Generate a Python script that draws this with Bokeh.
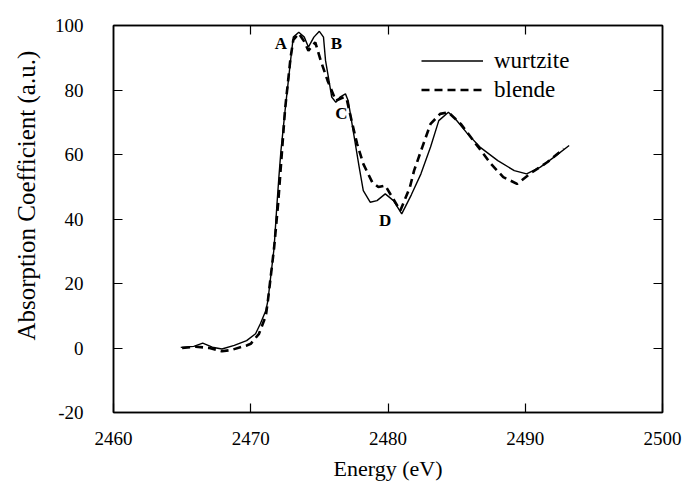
from bokeh.plotting import figure
from bokeh.models import Range1d, LinearAxis, FixedTicker, Legend, LegendItem, Title
from bokeh.core.properties import value
from bokeh.embed import file_html
from bokeh.resources import INLINE

# ---- data ----
wurtzite_e = [2464.9, 2465.85, 2466.5, 2467.2, 2467.9, 2468.8, 2469.7, 2470.35, 2470.7,
              2471.1, 2471.25, 2471.7, 2471.9, 2472.05, 2472.2, 2472.5, 2472.9, 2473.1,
              2473.5, 2473.9, 2474.2, 2474.6, 2475.0, 2475.3, 2475.45, 2475.7, 2475.9,
              2476.2, 2476.5, 2476.9, 2477.1, 2477.5, 2477.9, 2478.2, 2478.7, 2479.2,
              2479.8, 2480.4, 2481.0, 2481.7, 2482.4, 2483.1, 2483.7, 2484.4, 2484.9,
              2485.8, 2486.7, 2488.0, 2489.2, 2490.1, 2491.1, 2492.1, 2493.2]
wurtzite_v = [0.2, 0.5, 1.5, 0.25, -0.3, 0.8, 2.3, 4.4, 7.5,
              11.6, 14.7, 31.0, 44.0, 53.0, 61.2, 73.6, 89.1, 96.4,
              97.9, 96.4, 93.3, 96.4, 98.2, 96.4, 89.1, 82.9, 77.8,
              76.2, 77.8, 78.8, 76.7, 66.4, 56.1, 48.8, 45.2, 45.7,
              47.8, 45.7, 41.6, 47.5, 54.0, 62.3, 70.5, 73.1, 71.1,
              66.4, 62.3, 58.1, 55.0, 54.0, 56.1, 59.2, 62.8]

blende_e = [2465.0, 2466.0, 2467.0, 2467.9, 2468.6, 2469.7, 2470.0, 2470.6, 2471.1,
            2471.25, 2471.7, 2472.0, 2472.5, 2472.9, 2473.1, 2473.5, 2473.9, 2474.2,
            2474.7, 2475.1, 2475.6, 2476.2, 2476.8, 2477.0, 2477.4, 2477.75, 2478.2,
            2478.85, 2479.3, 2479.8, 2480.3, 2480.9, 2481.6, 2481.9, 2482.5, 2483.1,
            2483.8, 2484.4, 2485.3, 2486.4, 2487.5, 2488.4, 2489.4, 2490.5, 2491.6,
            2492.8]
blende_v = [0.0, 0.4, 0.0, -1.0, -0.6, 0.8, 1.3, 4.4, 10.0,
            14.7, 31.0, 45.0, 74.0, 90.0, 95.5, 97.5, 95.0, 92.2,
            94.8, 89.1, 82.9, 76.7, 77.8, 77.0, 69.5, 63.3, 57.1,
            51.4, 49.9, 50.4, 46.8, 42.6, 49.9, 55.0, 62.3, 69.5,
            72.6, 73.1, 69.5, 63.3, 57.1, 53.0, 50.9, 54.5, 57.6,
            61.8]

peak_labels = ["A", "B", "C", "D"]
peak_x = [2472.2, 2476.25, 2476.6, 2479.8]
peak_y = [94.3, 94.5, 72.7, 39.5]

x_ticks = [2460, 2470, 2480, 2490, 2500]
y_ticks = [-20, 0, 20, 40, 60, 80, 100]
y_tick_labels = {t: str(t) for t in y_ticks}   # plain hyphen for "-20"

SERIF = "Liberation Serif"

p = figure(width=687, height=483, output_backend="svg", toolbar_location=None,
           x_range=Range1d(2460, 2500), y_range=Range1d(-20, 100),
           min_border_left=113, min_border_right=25, min_border_top=25,
           min_border_bottom=71)
p.grid.visible = False
p.outline_line_color = "black"
p.outline_line_width = 1.5
p.background_fill_color = "white"
p.border_fill_color = "white"

r1 = p.line(wurtzite_e, wurtzite_v, line_color="black", line_width=1.4)
r2 = p.line(blende_e, blende_v, line_color="black", line_width=2.6, line_dash="8 5")

p.text(x=peak_x, y=peak_y, text=peak_labels, text_font=value(SERIF),
       text_font_style="bold", text_font_size="17px", text_align="center",
       text_baseline="middle", text_color="black")


def style_axis(ax, ticks):
    ax.ticker = FixedTicker(ticks=ticks)
    ax.major_tick_in = 9
    ax.major_tick_out = 0
    ax.minor_tick_in = 0
    ax.minor_tick_out = 0
    ax.axis_line_width = 1.5
    ax.major_tick_line_width = 1.2
    ax.major_label_text_font = SERIF
    ax.major_label_text_font_size = "19px"
    ax.major_label_text_color = "black"
    ax.axis_label_text_font = SERIF
    ax.axis_label_text_font_style = "normal"
    ax.axis_label_text_color = "black"


def tick_only_axis(ticks):
    ax = LinearAxis()
    ax.ticker = FixedTicker(ticks=[], minor_ticks=ticks)
    ax.major_tick_in = 0
    ax.major_tick_out = 0
    ax.minor_tick_in = 9
    ax.minor_tick_out = 0
    ax.minor_tick_line_width = 1.2
    ax.axis_line_width = 1.5
    ax.major_label_standoff = 0
    return ax


xa = p.xaxis[0]
style_axis(xa, x_ticks)
xa.axis_label = "Energy (eV)"
xa.axis_label_text_font_size = "22px"
xa.major_label_standoff = 19
xa.axis_label_standoff = 8

ya = p.yaxis[0]
style_axis(ya, y_ticks)
ya.major_label_overrides = y_tick_labels
ya.major_label_standoff = 30

# y-axis title, placed like in the reference (a bit above the frame centre)
ytitle = Title(text="Absorption Coefficient (a.u.)", align="left", offset=72,
               standoff=20, vertical_align="top", text_font=SERIF,
               text_font_size="25px", text_font_style="normal", text_color="black")
p.add_layout(ytitle, "left")

p.add_layout(tick_only_axis(y_ticks), "right")
p.add_layout(tick_only_axis([2470, 2480, 2490]), "above")

legend = Legend(items=[LegendItem(label="wurtzite", renderers=[r1]),
                       LegendItem(label="blende", renderers=[r2])],
                location=(308, 308))
legend.background_fill_alpha = 0
legend.border_line_alpha = 0
legend.glyph_width = 62
legend.glyph_height = 29
legend.label_height = 29
legend.spacing = 0
legend.padding = 0
legend.margin = 0
legend.label_standoff = 11
legend.label_text_font = SERIF
legend.label_text_font_size = "23px"
legend.label_text_color = "black"
p.add_layout(legend)

open("out.html", "w").write(file_html(p, INLINE))
